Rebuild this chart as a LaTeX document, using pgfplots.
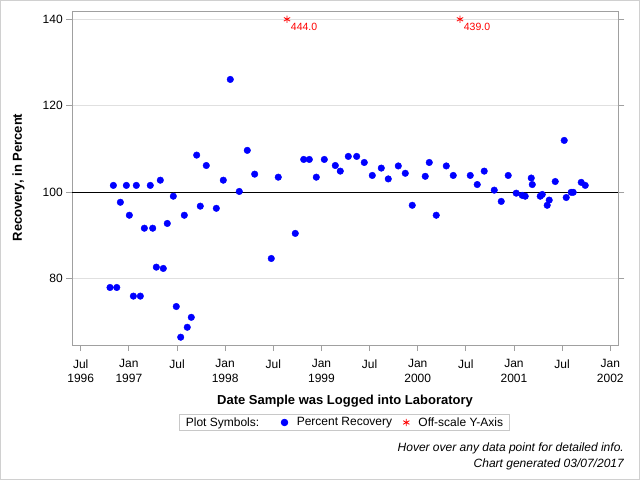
\documentclass[border=0pt]{standalone}
\usepackage{pgfplots}
\pgfplotsset{compat=1.18}
\usepackage{pgfplotstable}
\usepackage{fontspec}
\setmainfont{Liberation Sans}
\definecolor{gridgray}{RGB}{224,224,224}
\definecolor{framegray}{RGB}{160,160,160}
\definecolor{bordergray}{RGB}{208,208,208}
\definecolor{ptblue}{RGB}{0,0,255}
\definecolor{ptred}{RGB}{255,0,0}

\pgfplotstableread{
m v
3.65 78.0
4.07 101.6
4.49 78.0
4.94 97.7
5.69 101.6
6.06 94.7
6.56 76.0
6.93 101.6
7.43 76.0
7.93 91.7
8.67 101.6
8.97 91.7
9.42 82.7
9.92 102.8
10.29 82.4
10.79 92.8
11.54 99.1
11.91 73.6
12.46 66.5
12.91 94.7
13.28 68.8
13.78 71.1
14.45 108.6
14.90 96.8
15.65 106.2
16.90 96.3
17.77 102.8
18.64 126.1
19.76 100.2
20.76 109.7
21.68 104.2
23.75 84.7
24.62 103.5
26.74 90.5
27.79 107.6
28.49 107.6
29.36 103.5
30.36 107.6
31.73 106.2
32.35 104.9
33.35 108.3
34.39 108.3
35.34 106.9
36.34 103.9
37.46 105.6
38.33 103.1
39.58 106.1
40.45 104.4
41.32 97.0
42.94 103.7
43.44 106.9
44.31 94.7
45.56 106.1
46.43 103.9
48.55 103.9
49.42 101.8
50.29 104.9
51.54 100.5
52.41 97.9
53.28 103.9
54.28 99.8
55.03 99.3
55.40 99.1
56.15 103.3
56.28 101.8
57.27 99.1
57.52 99.5
58.14 97.0
58.39 98.2
59.14 102.5
60.26 112.0
60.51 98.8
61.13 100.0
61.38 100.0
62.38 102.3
62.88 101.6
}\recovery

\pgfplotstableread{
m v lab
25.71 140 444.0
47.27 140 439.0
}\offscale

\begin{document}
\begin{tikzpicture}[x=1pt,y=1pt]
\useasboundingbox (0,0) rectangle (640,480);
\draw[bordergray, line width=1pt] (0.5,0.5) rectangle (639.5,479.5);
\begin{axis}[
  at={(72.3pt,135pt)}, anchor=south west,
  scale only axis, width=546pt, height=333.7pt,
  xmin=-1.05, xmax=67, ymin=64.7, ymax=141.85,
  axis line style={framegray, line width=0.8pt},
  tick align=outside, major tick length=6pt,
  tick style={framegray, line width=0.8pt},
  xtick pos=bottom, ytick pos=both, yticklabel pos=left,
  ytick={80,100,120,140},
  ymajorgrids, major grid style={gridgray, line width=0.8pt},
  xtick={0,6,...,66},
  xticklabels={{Jul\\1996},{Jan\\1997},Jul,{Jan\\1998},Jul,{Jan\\1999},Jul,{Jan\\2000},Jul,{Jan\\2001},Jul,{Jan\\2002}},
  xticklabel style={align=center, font=\fontsize{12}{14.4}\selectfont, yshift=-5pt},
  yticklabel style={font=\fontsize{12}{14.4}\selectfont},
  /pgf/number format/assume math mode=true,
  xlabel={Date Sample was Logged into Laboratory},
  xlabel style={at={(axis description cs:0.4995,-0.1678)}, anchor=center, font=\bfseries\fontsize{13}{15.6}\selectfont},
  ylabel={Recovery, in Percent},
  ylabel style={at={(axis description cs:-0.0985,0.502)}, anchor=center, font=\bfseries\fontsize{13}{15.6}\selectfont},
  legend columns=3,
  legend style={at={(axis description cs:0.4985,-0.2322)}, anchor=center,
    draw={rgb,255:red,200;green,200;blue,200}, line width=0.8pt,
    font=\fontsize{12}{14}\selectfont, inner ysep=1pt, inner xsep=4pt,
    /tikz/column 2/.style={column sep=20pt},
    /tikz/column 3/.style={column sep=7pt},
    /tikz/column 4/.style={column sep=9pt},
    /tikz/column 5/.style={column sep=7pt}},
  clip=false,
]
\addlegendimage{empty legend}
\addlegendentry{Plot Symbols:}
\draw[black, line width=0.8pt] (axis cs:-1.05,100) -- (axis cs:67,100);
\addplot[only marks, mark=*, mark size=3.3pt, color=ptblue, mark options={fill=ptblue, draw=ptblue}] table[x=m, y=v] {\recovery};
\addlegendentry{Percent Recovery}
\addplot[only marks, mark=asterisk, mark size=3.6pt, color=ptred, mark options={line width=0.8pt},
  nodes near coords, point meta=explicit symbolic,
  every node near coord/.append style={anchor=north west, font=\fontsize{10.5}{12}\selectfont, inner sep=1pt, text=ptred, xshift=2.5pt, yshift=-2pt}]
  table[x=m, y=v, meta=lab] {\offscale};
\addlegendentry{Off-scale Y-Axis}
\end{axis}
\node[anchor=east, inner sep=0pt, font=\itshape\fontsize{12}{14.4}\selectfont] at (624,31.3) {Hover over any data point for detailed info.};
\node[anchor=east, inner sep=0pt, font=\itshape\fontsize{12}{14.4}\selectfont] at (624,15.7) {Chart generated 03/07/2017};
\end{tikzpicture}
\end{document}
